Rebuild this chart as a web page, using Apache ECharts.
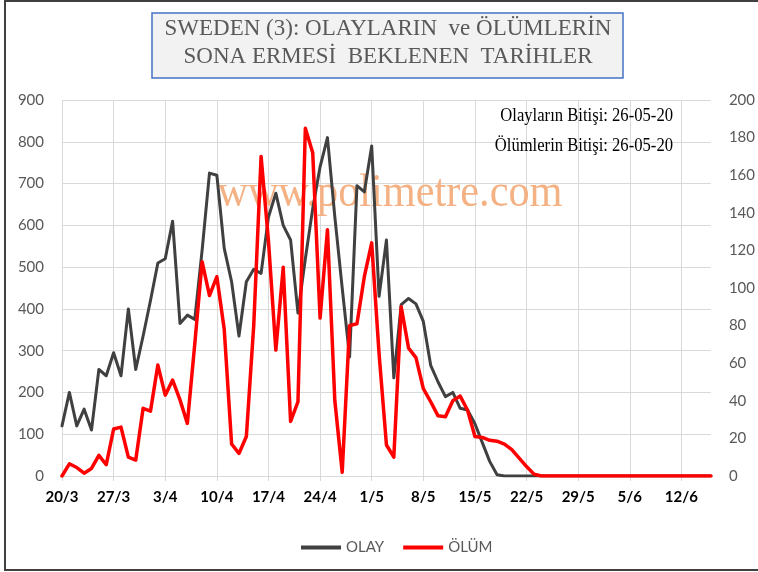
<!DOCTYPE html>
<html>
<head>
<meta charset="utf-8">
<script src="https://cdn.jsdelivr.net/npm/echarts@6/dist/echarts.min.js"></script>
<style>
html,body{margin:0;padding:0;background:#fff}
#chart{width:758px;height:572px}
</style>
</head>
<body>
<div id="chart"></div>
<script>
// gunler 20/3 - 16/6
var dates = [
'20/3','21/3','22/3','23/3','24/3','25/3','26/3','27/3','28/3','29/3','30/3','31/3',
'1/4','2/4','3/4','4/4','5/4','6/4','7/4','8/4','9/4','10/4','11/4','12/4','13/4','14/4','15/4',
'16/4','17/4','18/4','19/4','20/4','21/4','22/4','23/4','24/4','25/4','26/4','27/4','28/4','29/4','30/4',
'1/5','2/5','3/5','4/5','5/5','6/5','7/5','8/5','9/5','10/5','11/5','12/5','13/5','14/5','15/5',
'16/5','17/5','18/5','19/5','20/5','21/5','22/5','23/5','24/5','25/5','26/5','27/5','28/5','29/5','30/5','31/5',
'1/6','2/6','3/6','4/6','5/6','6/6','7/6','8/6','9/6','10/6','11/6','12/6','13/6','14/6','15/6','16/6'
];

// OLAY (sol eksen)
var olay = [
120,200,120,160,110,255,240,295,240,400,
255,335,420,510,520,610,365,385,375,540,
725,720,545,465,335,465,495,485,620,677,
600,565,390,520,640,740,810,620,450,285,
695,680,790,430,565,235,410,425,412,370,
265,225,190,200,162,158,125,80,35,3,
0,0,0,0,0,0,0,0,0,0,0,0,0,0,0,0,0,0,0,0,0,0,0,0,0,0,0,0,0
];

// ÖLÜM (sag eksen)
var olum = [
0,6.5,4.5,1.5,4,11,6,25,26,10,
8.5,36,34.5,59,43,51,40.5,28,70,114,
96,106,78,17,12,21,80,170,125,67,
111,29,39.5,185,172,84,131,40,2,80,
81,106,124,65,16.5,10,90,68,63,46.5,
39.5,32,31.5,40,42.5,35,21,20.5,19,18.5,
17,14,9.5,5,1,
0,0,0,0,0,0,0,0,0,0,0,0,0,0,0,0,0,0,0,0,0,0,0,0
];

var titleLines = ['SWEDEN (3): OLAYLARIN  ve ÖLÜMLERİN', 'SONA ERMESİ  BEKLENEN  TARİHLER'];
var notes = ['Olayların Bitişi: 26-05-20', 'Ölümlerin Bitişi: 26-05-20'];
var watermark = 'www.polimetre.com';

var gridColor = '#d9d9d9';
var labelColor = '#595959';

var myChart = echarts.init(document.getElementById('chart'));
var option = {
    animation: false,
    backgroundColor: '#fff',
    grid: { left: 62, right: 46, top: 100, bottom: 96 },
    legend: {
        left: 296,
        top: 535,
        icon: 'rect',
        itemWidth: 40,
        itemHeight: 4,
        itemGap: 19,
        textStyle: { fontFamily: 'Lato', fontSize: 15, color: labelColor, lineHeight: 14, height: 14 },
        data: ['OLAY', 'ÖLÜM']
    },
    xAxis: {
        type: 'category',
        data: dates,
        boundaryGap: false,
        axisLine: { lineStyle: { color: gridColor, width: 1 } },
        axisTick: { show: true, interval: 6, length: 5, lineStyle: { color: gridColor } },
        axisLabel: {
            interval: 6, margin: 14,
            fontFamily: 'Lato', fontWeight: 'bold', fontSize: 15, color: '#000'
        },
        splitLine: { show: true, interval: 6, lineStyle: { color: gridColor, width: 1 } }
    },
    yAxis: [{
        type: 'value', min: 0, max: 900, interval: 100,
        axisLine: { show: false }, axisTick: { show: false },
        axisLabel: { margin: 18, fontFamily: 'Lato', fontSize: 15, color: labelColor },
        splitLine: { lineStyle: { color: gridColor, width: 1 } }
    }, {
        type: 'value', min: 0, max: 200, interval: 20,
        axisLine: { show: false }, axisTick: { show: false },
        axisLabel: { margin: 18, fontFamily: 'Lato', fontSize: 15, color: labelColor },
        splitLine: { show: false }
    }],
    series: [{
        name: 'OLAY', type: 'line', yAxisIndex: 0, data: olay,
        symbol: 'none', color: '#404040',
        lineStyle: { width: 3, color: '#404040', cap: 'round', join: 'round' },
        z: 3
    }, {
        name: 'ÖLÜM', type: 'line', yAxisIndex: 1, data: olum,
        symbol: 'none', color: '#ff0000',
        lineStyle: { width: 3.5, color: '#ff0000', cap: 'round', join: 'round' },
        z: 4
    }],
    graphic: [
        // dis cerceve
        { type: 'rect', z: 0, silent: true,
          shape: { x: 5, y: 1, width: 800, height: 569 },
          style: { fill: 'none', stroke: '#404040', lineWidth: 2 } },
        // baslik kutusu
        { type: 'rect', z: 10,
          shape: { x: 152, y: 13, width: 471, height: 65 },
          style: { fill: '#f2f2f2', stroke: '#4472c4', lineWidth: 1.5 } },
        { type: 'text', z: 11, x: 388, y: 29,
          style: { text: titleLines[0], fill: labelColor, font: '23px "Liberation Serif"',
                   textAlign: 'center', textVerticalAlign: 'middle' } },
        { type: 'text', z: 11, x: 388, y: 57,
          style: { text: titleLines[1], fill: labelColor, font: '23px "Liberation Serif"',
                   textAlign: 'center', textVerticalAlign: 'middle' } },
        // filigran
        { type: 'text', z: 1, x: 390, y: 194, scaleX: 0.9,
          style: { text: watermark, fill: '#f4b183', font: '47px "Liberation Serif"',
                   textAlign: 'center', textVerticalAlign: 'middle' } },
        // bitis tarihleri
        { type: 'text', z: 5, x: 673, y: 116, scaleX: 0.875,
          style: { text: notes[0], fill: '#000', font: '19px "Liberation Serif"',
                   textAlign: 'right', textVerticalAlign: 'middle' } },
        { type: 'text', z: 5, x: 673, y: 146, scaleX: 0.875,
          style: { text: notes[1], fill: '#000', font: '19px "Liberation Serif"',
                   textAlign: 'right', textVerticalAlign: 'middle' } }
    ]
};
myChart.setOption(option, true);
</script>
</body>
</html>
